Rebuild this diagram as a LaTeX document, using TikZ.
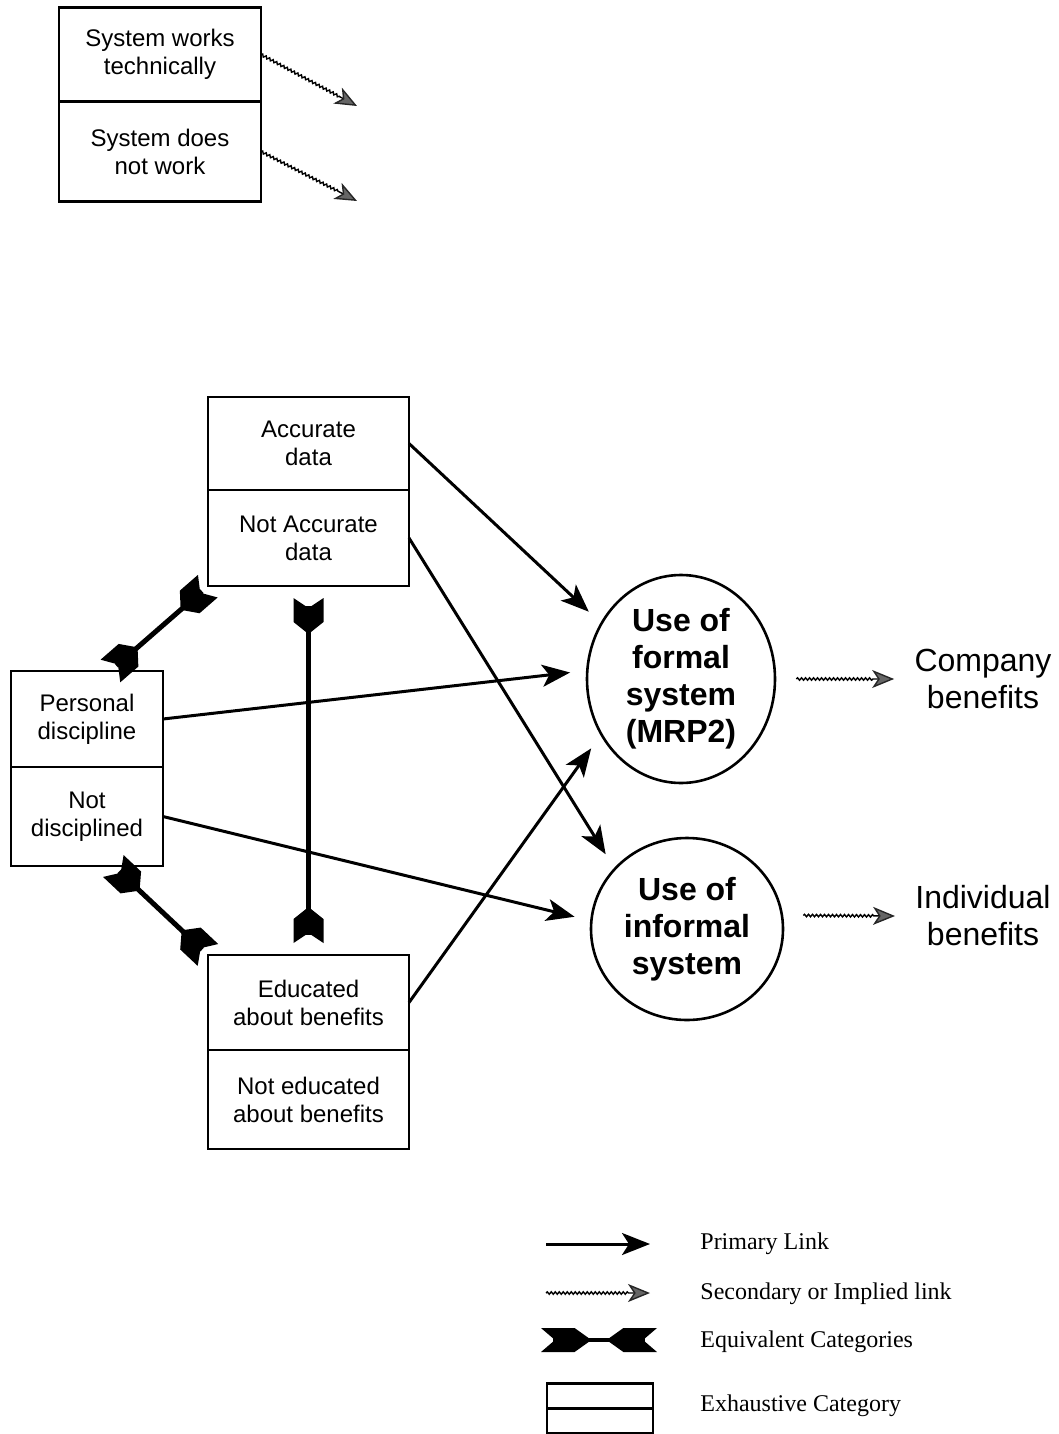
\documentclass[tikz,border=0pt]{standalone}
\usepackage{fontspec}
\setmainfont{Liberation Serif}
\setsansfont{Liberation Sans}
\usepackage{tikz}
\usetikzlibrary{arrows.meta, calc, positioning, shapes, decorations.pathmorphing, decorations.markings}

\tikzset{
  fletch/.pic={\fill (0pt,7.5pt) -- (12pt,7.5pt) -- (18pt,0pt) -- (12pt,-7.5pt) -- (0pt,-7.5pt) -- (5pt,0pt) -- cycle;}
}

\begin{document}
\begin{tikzpicture}[x=0.5pt, y=-0.5pt,
    catbox/.style={draw, line width=1.3pt, outer sep=0pt, inner sep=1pt, align=center,
                   font=\sffamily\fontsize{12}{14}\selectfont},
    usebox/.style={draw, ellipse, line width=1.3pt, inner sep=0pt, align=center,
                   font=\sffamily\bfseries\fontsize{16}{18.5}\selectfont},
    outcome/.style={inner sep=0pt, align=center, font=\sffamily\fontsize{16}{18.5}\selectfont},
    keytext/.style={anchor=west, inner sep=0pt, font=\fontsize{12}{14}\selectfont},
    primary/.style={line width=1.5pt, -{Stealth[length=14pt, width=11pt, inset=3.5pt]}, shorten >=8pt},
    secondary/.style={line width=0.7pt, decorate,
        decoration={snake, amplitude=0.6pt, segment length=2pt, post length=10pt},
        -{Stealth[length=11pt, width=9pt, inset=3pt, fill=black!60, color=black!85]}},
    equiv/.style={line width=2.5pt, shorten <=4pt, shorten >=4pt,
        postaction={decorate, decoration={markings,
        mark=at position 0 with {\pic[transform shape] {fletch};},
        mark=at position 1 with {\pic[transform shape, xscale=-1] {fletch};}}}},
    equivkey/.style={line width=2pt, shorten <=6pt, shorten >=6pt,
        postaction={decorate, decoration={markings,
        mark=at position 0 with {\pic[transform shape, xscale=1.4, yscale=0.8] {fletch};},
        mark=at position 1 with {\pic[transform shape, xscale=-1.4, yscale=0.8] {fletch};}}}},
  ]
  \useasboundingbox (0,0) rectangle (1059,1434);

  % system works / does not work
  \node[catbox, minimum width=101pt, minimum height=47pt] (works) at (160,54.5) {System works\\technically};
  \node[catbox, minimum width=101pt, minimum height=50pt, below=0pt of works] (notworks) {System does\\not work};
  \coordinate (worksend) at (357,106);
  \coordinate (notworksend) at (357,201);
  \draw[secondary] (works.east) -- (worksend);
  \draw[secondary] (notworks.east) -- (notworksend);

  % exhaustive categories
  \node[catbox, minimum width=100.5pt, minimum height=46.5pt] (accdata) at (308.5,443.5) {Accurate\\data};
  \node[catbox, minimum width=100.5pt, minimum height=48pt, below=0pt of accdata] (naccdata) {Not Accurate\\data};
  \node[catbox, minimum width=76pt, minimum height=48pt] (persdisc) at (87,719) {Personal\\discipline};
  \node[catbox, minimum width=76pt, minimum height=49.5pt, below=0pt of persdisc] (notdisc) {Not\\disciplined};
  \node[catbox, minimum width=100.5pt, minimum height=47.5pt] (educated) at (308.5,1002.5) {Educated\\about benefits};
  \node[catbox, minimum width=100.5pt, minimum height=49.5pt, below=0pt of educated] (noteducated) {Not educated\\about benefits};

  % use of systems and outcomes
  \node[usebox, minimum width=94pt, minimum height=104pt] (formal) at (681,679) {Use of\\formal\\system\\(MRP2)};
  \node[usebox, minimum width=96pt, minimum height=91pt] (informal) at (687,929) {Use of\\informal\\system};
  \node[outcome] (company) at (983,679) {Company\\benefits};
  \node[outcome] (individual) at (983,916) {Individual\\benefits};

  % equivalent categories
  \draw[equiv] (persdisc.64) -- (naccdata.south west);
  \draw[equiv] ([yshift=-6pt]naccdata.south) -- ([yshift=6pt]educated.north);
  \draw[equiv] (notdisc.-62) -- (educated.north west);

  % primary links
  \draw[primary] (accdata.east) -- (formal.145);
  \draw[primary] (naccdata.east) -- (informal.140);
  \draw[primary] (persdisc.east) -- (formal.175);
  \draw[primary] (notdisc.east) -- (informal.175);
  \draw[primary] (educated.east) -- (formal.215);

  % secondary links
  \draw[secondary] ([xshift=10pt]formal.east) -- ([xshift=-10pt]company.west);
  \draw[secondary] ([xshift=10pt]informal.8) -- ([xshift=-10pt]individual.west);

  % key
  \coordinate (kp1) at (546,1244); \coordinate (kp2) at (650,1244);
  \coordinate (ks1) at (546,1293); \coordinate (ks2) at (650,1293);
  \coordinate (ke1) at (541,1340); \coordinate (ke2) at (657,1340);
  \draw[primary, shorten >=0pt] (kp1) -- (kp2);
  \draw[secondary] (ks1) -- (ks2);
  \draw[equivkey] (ke1) -- (ke2);
  \node[catbox, minimum width=53pt, minimum height=12.5pt] (keytop) at (600,1396) {};
  \node[catbox, minimum width=53pt, minimum height=12.5pt, below=0pt of keytop] (keybot) {};
  \node[keytext] (kprim) at (700,1244) {Primary Link};
  \node[keytext] (ksec) at (700,1294) {Secondary or Implied link};
  \node[keytext] (kequiv) at (700,1342) {Equivalent Categories};
  \node[keytext] (kexh) at (700,1406) {Exhaustive Category};
\end{tikzpicture}
\end{document}
